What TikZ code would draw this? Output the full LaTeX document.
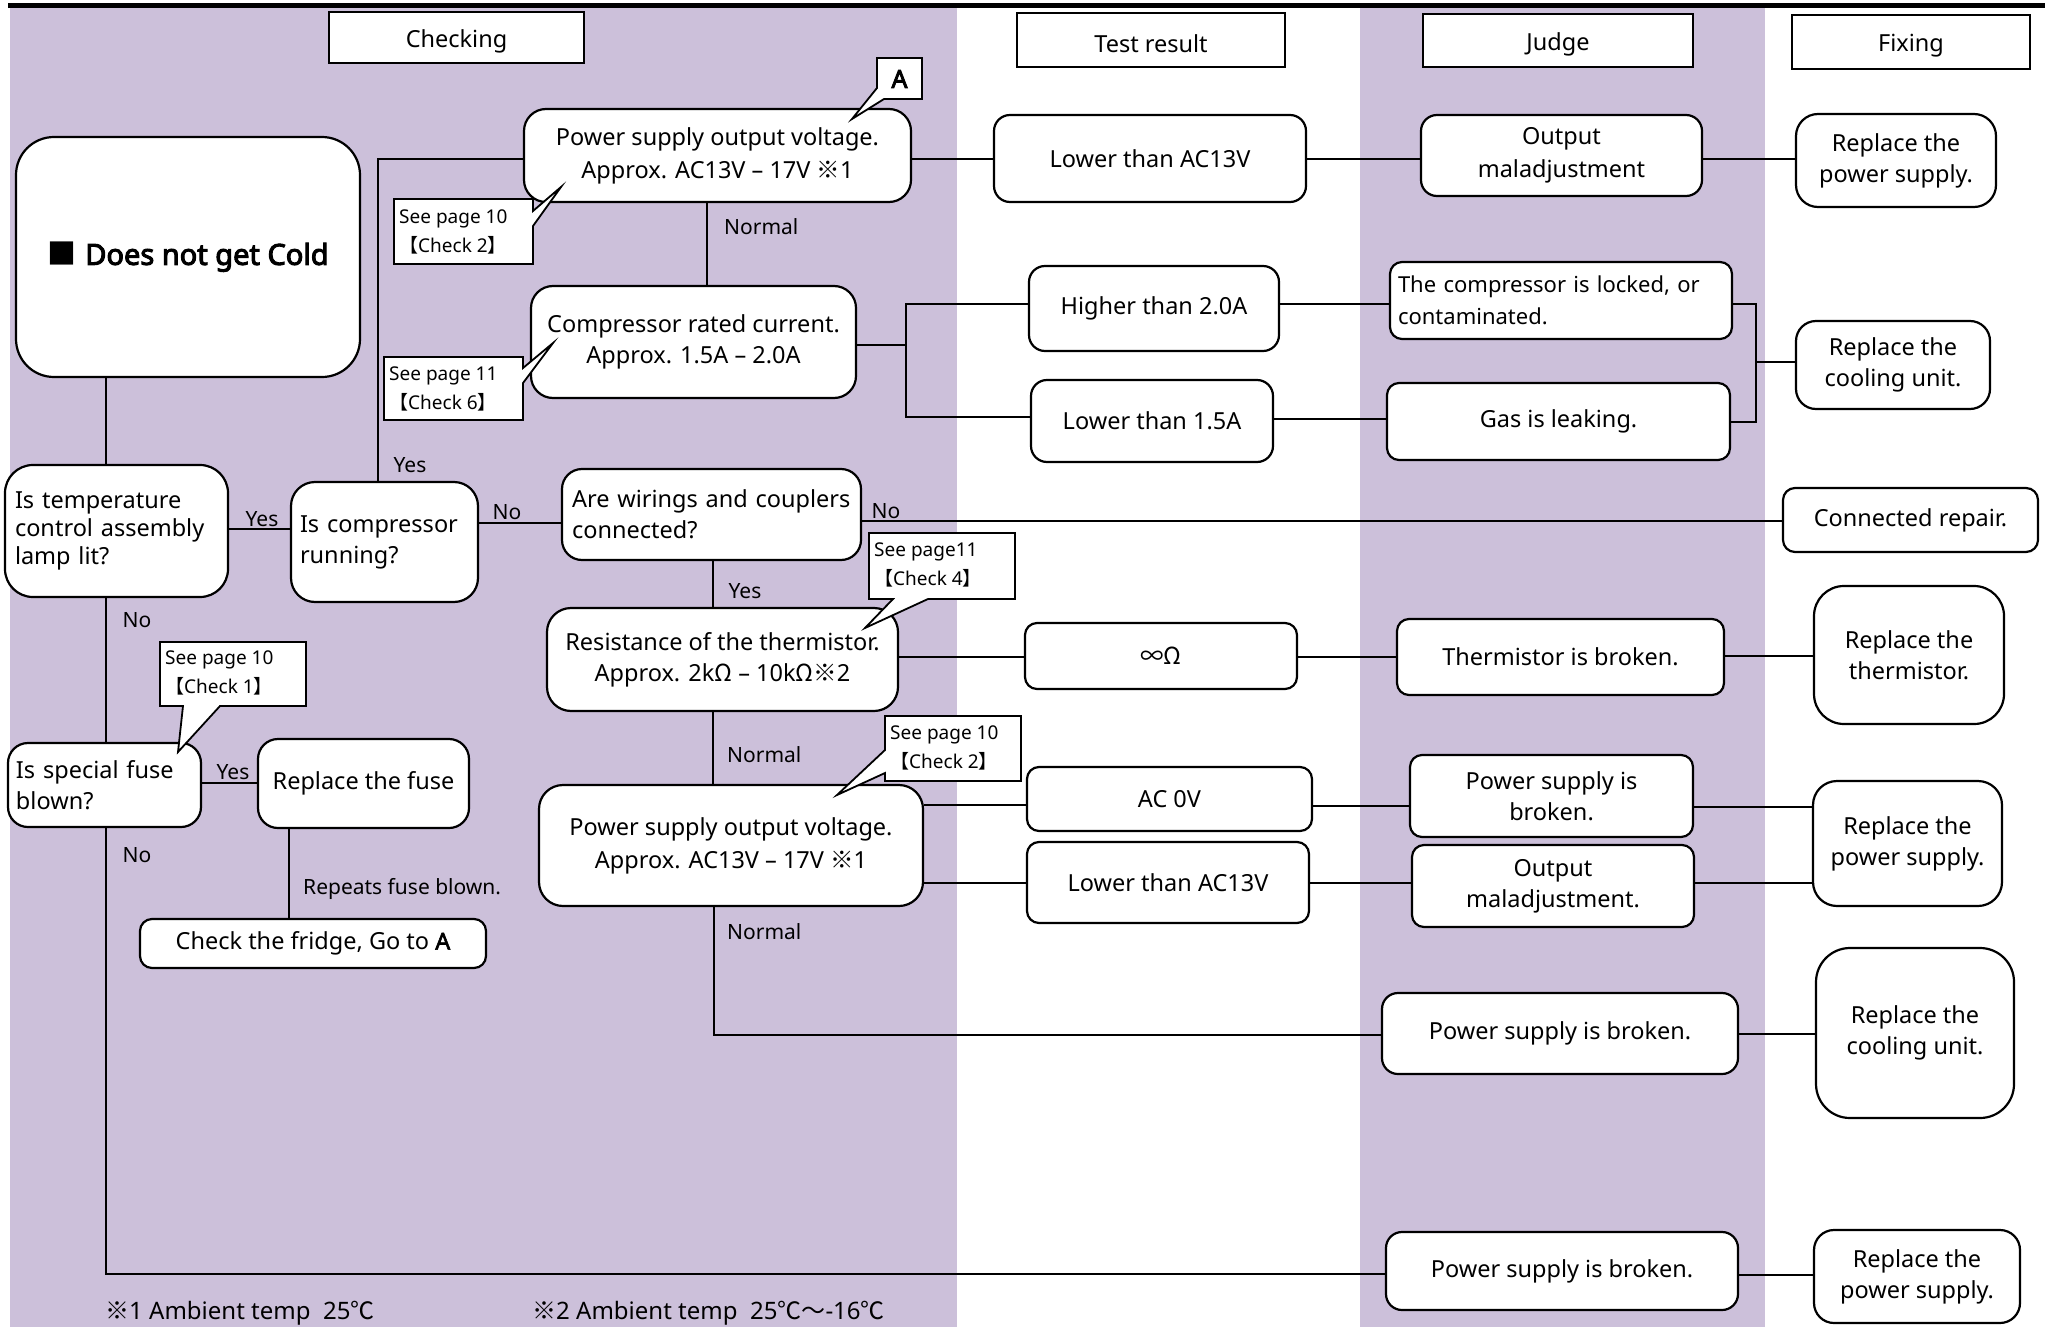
\documentclass[tikz,border=0pt]{standalone}
\usepackage{fontspec}
\setmainfont{Noto Sans}[AutoFakeBold=2.5]
\newfontfamily\cjk{Noto Sans CJK JP}
\newfontfamily\bnoto{Noto Sans}[FakeBold=2.5]
\newfontfamily\bbnoto{Noto Sans}[FakeBold=3.5]
\definecolor{lav}{HTML}{CCC0DA}
\newcommand\km{{\cjk ※}}
\newcommand\lb{{\cjk 【}}
\newcommand\rb{{\cjk 】}}
\newcommand\bx[7]{\node[box,#2,minimum width={#5-#3},minimum height={#6-#4}] (#1) at ({(#3+#5)/2},{(#4+#6)/2}) {#7};}
\newcommand\hd[6]{\node[hdr,minimum width={#5-#3},minimum height={#6-#4}] (#1) at ({(#3+#5)/2},{(#4+#6)/2}) {\raisebox{-3.5pt}[\height][\depth]{#2}};}
\begin{document}
\begin{tikzpicture}[x=1pt,y=-1pt,
  font=\fontsize{23.5}{31}\selectfont,
  box/.style={draw, line width=2.2pt, fill=white, rounded corners=12pt, align=center, inner sep=0pt},
  hdr/.style={draw, line width=2.6pt, fill=white, inner sep=0pt},
  conn/.style={line width=2pt},
  lbl/.style={inner sep=0pt, font=\fontsize{21}{26}\selectfont},
  callout/.style={draw, line width=1.8pt, fill=white, line join=miter},
  ctext/.style={inner sep=0pt, align=left, anchor=west, font=\fontsize{19}{29}\selectfont},
]
\useasboundingbox (0,0) rectangle (2045,1327);
\fill[white] (0,0) rectangle (2045,1327);
\fill[lav] (10,8) rectangle (957,1327);
\fill[lav] (1360,8) rectangle (1765,1327);
\fill[black] (8,3) rectangle (2045,8);

% headers
\hd{chk}{Checking}{329}{12}{584}{63}
\hd{tres}{Test result}{1017}{13}{1285}{67}
\hd{judge}{Judge}{1423}{14}{1693}{67}
\hd{fix}{Fixing}{1792}{15}{2030}{69}

% nodes
\bx{cold}{rounded corners=38pt}{16}{137}{360}{377}{\fontsize{29}{34}\selectfont{\cjk ■}\hspace{9pt}{\bbnoto Does not get Cold}}
\bx{psv1}{rounded corners=22pt,font=\fontsize{23.5}{33}\selectfont}{524}{109}{911}{202}{Power supply output voltage.\\Approx. AC13V – 17V \km1}
\bx{low1}{rounded corners=16pt}{994}{115}{1306}{202}{Lower than AC13V}
\bx{mal1}{rounded corners=16pt,font=\fontsize{23.5}{33}\selectfont}{1421}{115}{1702}{196}{Output\\maladjustment}
\bx{rep1}{rounded corners=22pt}{1796}{114}{1996}{207}{Replace the\\power supply.}
\bx{comp}{rounded corners=22pt}{531}{286}{856}{398}{Compressor rated current.\\Approx. 1.5A – 2.0A}
\bx{high}{rounded corners=16pt}{1029}{266}{1279}{351}{Higher than 2.0A}
\bx{low15}{rounded corners=16pt}{1031}{380}{1273}{462}{Lower than 1.5A}
\bx{locked}{align=left,text width=326,font=\fontsize{22}{32}\selectfont}{1390}{262}{1732}{339}{The compressor is locked, or\\contaminated.}
\bx{gas}{}{1387}{383}{1730}{460}{Gas is leaking.}
\bx{repcool1}{rounded corners=20pt}{1796}{321}{1990}{409}{Replace the\\cooling unit.}
\bx{temp}{rounded corners=28pt,align=left,text width=203,font=\fontsize{23.5}{28}\selectfont}{5}{465}{228}{597}{Is temperature\\control assembly\\lamp lit?}
\bx{run}{rounded corners=24pt,align=left,text width=169}{291}{482}{478}{602}{Is compressor\\running?}
\bx{wire}{rounded corners=20pt,align=left,text width=279}{562}{469}{861}{560}{Are wirings and couplers\\connected?}
\bx{conn}{}{1783}{488}{2038}{552}{Connected repair.}
\bx{res}{rounded corners=24pt}{547}{608}{898}{711}{Resistance of the thermistor.\\Approx. 2k{\cjk Ω} – 10k{\cjk Ω}\km2}
\bx{inf}{}{1025}{623}{1297}{689}{{\cjk ∞Ω}}
\bx{therm}{}{1397}{619}{1724}{695}{Thermistor is broken.}
\bx{repth}{rounded corners=30pt}{1814}{586}{2004}{724}{Replace the\\thermistor.}
\bx{fuse}{rounded corners=20pt,align=left,text width=177}{8}{743}{201}{827}{Is special fuse\\blown?}
\bx{repfuse}{rounded corners=20pt}{258}{739}{469}{828}{Replace the fuse}
\bx{fridge}{}{140}{919}{486}{968}{Check the fridge, Go to {\bnoto A}}
\bx{psv2}{rounded corners=24pt,font=\fontsize{23.5}{33}\selectfont}{539}{785}{923}{906}{Power supply output voltage.\\Approx. AC13V – 17V \km1}
\bx{ac0}{}{1027}{767}{1312}{831}{AC 0V}
\bx{psb1}{}{1410}{755}{1693}{837}{Power supply is\\broken.}
\bx{reppsm}{rounded corners=24pt}{1813}{781}{2002}{906}{Replace the\\power supply.}
\bx{low2}{}{1027}{842}{1309}{923}{Lower than AC13V}
\bx{mal2}{}{1412}{845}{1694}{927}{Output\\maladjustment.}
\bx{psb2}{rounded corners=16pt}{1382}{993}{1738}{1074}{Power supply is broken.}
\bx{repcool2}{rounded corners=34pt}{1816}{948}{2014}{1118}{Replace the\\cooling unit.}
\bx{psb3}{rounded corners=16pt}{1386}{1232}{1738}{1310}{Power supply is broken.}
\bx{reppsb}{rounded corners=20pt}{1814}{1230}{2020}{1323}{Replace the\\power supply.}

% connectors
\draw[conn] (cold.south -| 106,0) -- (temp.north -| 106,0);
\draw[conn] (temp.east |- 0,529) -- (run.west |- 0,529);
\draw[conn] (run.north -| 378,0) -- (378,159) -- (psv1.west |- 0,159);
\draw[conn] (psv1.east |- 0,159) -- (low1.west |- 0,159);
\draw[conn] (low1.east |- 0,159) -- (mal1.west |- 0,159);
\draw[conn] (mal1.east |- 0,159) -- (rep1.west |- 0,159);
\draw[conn] (psv1.south -| 707,0) -- (comp.north -| 707,0);
\draw[conn] (comp.east |- 0,345) -- (906,345);
\draw[conn] (high.west |- 0,304) -- (906,304) -- (906,417) -- (low15.west |- 0,417);
\draw[conn] (high.east |- 0,304) -- (locked.west |- 0,304);
\draw[conn] (low15.east |- 0,419) -- (gas.west |- 0,419);
\draw[conn] (locked.east |- 0,304) -- (1756,304) -- (1756,422) -- (gas.east |- 0,422);
\draw[conn] (1756,362) -- (repcool1.west |- 0,362);
\draw[conn] (run.east |- 0,523) -- (wire.west |- 0,523);
\draw[conn] (wire.east |- 0,521) -- (conn.west |- 0,521);
\draw[conn] (wire.south -| 713,0) -- (res.north -| 713,0);
\draw[conn] (res.east |- 0,657) -- (inf.west |- 0,657);
\draw[conn] (inf.east |- 0,657) -- (therm.west |- 0,657);
\draw[conn] (therm.east |- 0,656) -- (repth.west |- 0,656);
\draw[conn] (res.south -| 713,0) -- (psv2.north -| 713,0);
\draw[conn] (psv2.east |- 0,805) -- (ac0.west |- 0,805);
\draw[conn] (ac0.east |- 0,806) -- (psb1.west |- 0,806);
\draw[conn] (psb1.east |- 0,807) -- (reppsm.west |- 0,807);
\draw[conn] (psv2.east |- 0,883) -- (low2.west |- 0,883);
\draw[conn] (low2.east |- 0,883) -- (mal2.west |- 0,883);
\draw[conn] (mal2.east |- 0,883) -- (reppsm.west |- 0,883);
\draw[conn] (psv2.south -| 714,0) -- (714,1035) -- (psb2.west |- 0,1035);
\draw[conn] (psb2.east |- 0,1034) -- (repcool2.west |- 0,1034);
\draw[conn] (temp.south -| 106,0) -- (fuse.north -| 106,0);
\draw[conn] (fuse.east |- 0,783) -- (repfuse.west |- 0,783);
\draw[conn] (repfuse.south -| 289,0) -- (fridge.north -| 289,0);
\draw[conn] (fuse.south -| 106,0) -- (106,1274) -- (psb3.west |- 0,1274);
\draw[conn] (psb3.east |- 0,1275) -- (reppsb.west |- 0,1275);

% labels
\node[lbl] (yes1) at (410,465) {Yes};
\node[lbl] (yes2) at (262,519) {Yes};
\node[lbl] (no1) at (507,512) {No};
\node[lbl] (no2) at (886,511) {No};
\node[lbl] (yes3) at (745,591) {Yes};
\node[lbl,anchor=west] (nor1) at (724,227) {Normal};
\node[lbl,anchor=west] (nor2) at (727,755) {Normal};
\node[lbl,anchor=west] (nor3) at (727,932) {Normal};
\node[lbl] (no3) at (137,620) {No};
\node[lbl] (yes4) at (233,772) {Yes};
\node[lbl] (no4) at (137,855) {No};
\node[lbl,anchor=west] (rep) at (303,889) {Repeats fuse blown.};

% callouts
\draw[callout] (877,58) -- (922,58) -- (922,99) -- (884,99) -- (852,119) -- (877,88) -- cycle;
\node[inner sep=0pt,font=\fontsize{25}{28}\selectfont\bbnoto] (ta) at (899.5,79) {A};
\draw[callout] (394,199) -- (533,199) -- (533,211) -- (561,187) -- (533,226) -- (533,264) -- (394,264) -- cycle;
\node[ctext] (tc2a) at (399,232) {See page 10\\\lb Check 2\rb};
\draw[callout] (384,357) -- (523,357) -- (523,368) -- (553,343) -- (523,383) -- (523,420) -- (384,420) -- cycle;
\node[ctext] (tc6) at (389,389) {See page 11\\\lb Check 6\rb};
\draw[callout] (869,533) -- (1015,533) -- (1015,599) -- (928,599) -- (865,628) -- (893,599) -- (869,599) -- cycle;
\node[ctext] (tc4) at (874,565) {See page11\\\lb Check 4\rb};
\draw[callout] (160,642) -- (306,642) -- (306,706) -- (220,706) -- (178,752) -- (183,706) -- (160,706) -- cycle;
\node[ctext] (tc1) at (165,673) {See page 10\\\lb Check 1\rb};
\draw[callout] (885,716) -- (1021,716) -- (1021,781) -- (885,781) -- (885,773) -- (837,795) -- (885,750) -- cycle;
\node[ctext] (tc2b) at (890,748) {See page 10\\\lb Check 2\rb};

% footnotes
\node[inner sep=0pt,anchor=west,font=\fontsize{24}{28}\selectfont] (fn1) at (105,1313) {\km1 Ambient temp\ \ 25{\cjk ℃}};
\node[inner sep=0pt,anchor=west,font=\fontsize{24}{28}\selectfont] (fn2) at (532,1313) {\km2 Ambient temp\ \ 25{\cjk ℃～}-16{\cjk ℃}};
\end{tikzpicture}
\end{document}
